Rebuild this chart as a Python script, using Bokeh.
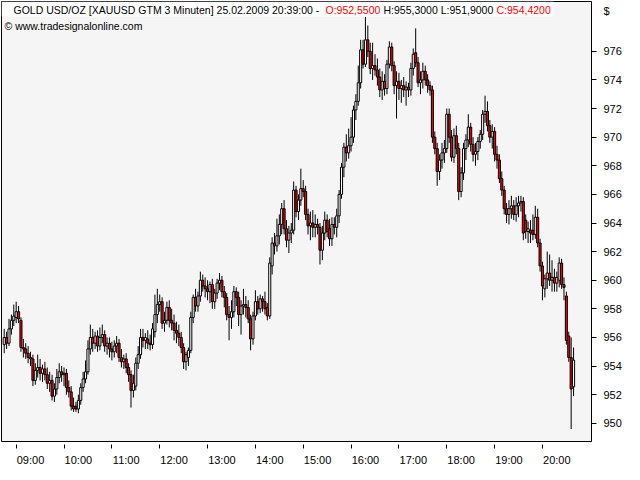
from bokeh.plotting import figure
from bokeh.models import ColumnDataSource, FixedTicker, Range1d, Label, BoxAnnotation
from bokeh.embed import file_html
from bokeh.resources import INLINE

# ---- data: 3-minute bars of GOLD USD/OZ, 25.02.2009, 08:45 .. 20:39 ----
first_bar = "08:45"
bar_step_min = 3

opens = [
    955.5, 956.0, 955.6, 956.6, 957.2, 957.4, 957.8, 957.2, 955.3, 955.2,
    954.9, 954.6, 954.5, 953.0, 953.7, 953.9, 953.5, 953.8, 953.4, 952.8,
    953.0, 951.9, 952.4, 953.2, 953.6, 953.4, 953.5, 952.5, 952.2, 951.2,
    951.2, 951.0, 951.6, 952.5, 953.1, 953.6, 955.2, 956.0, 955.6, 956.1,
    955.4, 956.0, 956.2, 955.4, 955.6, 955.2, 955.0, 955.4, 955.6, 954.6,
    954.3, 954.5, 953.9, 953.4, 952.3, 952.6, 954.2, 954.8, 956.0, 955.8,
    955.9, 955.6, 955.5, 956.4, 957.6, 958.3, 958.5, 957.0, 957.2, 958.1,
    957.2, 957.0, 956.5, 956.3, 956.0, 955.3, 954.3, 954.6, 955.1, 957.4,
    958.8, 958.2, 958.9, 960.0, 959.6, 959.4, 959.2, 959.7, 958.5, 959.1,
    959.8, 960.0, 959.2, 958.8, 957.6, 957.4, 957.8, 959.2, 958.8, 957.6,
    958.2, 958.3, 958.1, 957.3, 955.9, 957.5, 958.5, 958.0, 958.7, 958.5,
    958.1, 957.5, 961.0, 962.6, 962.4, 963.1, 963.9, 965.0, 963.6, 962.8,
    963.3, 963.5, 966.3, 964.8, 965.6, 966.4, 966.2, 964.6, 963.8, 964.0,
    963.7, 963.9, 963.7, 962.1, 963.3, 964.2, 963.6, 962.9, 963.9, 963.7,
    964.5, 966.0, 967.9, 969.3, 968.9, 969.4, 970.0, 971.9, 972.5, 973.8,
    976.1, 975.1, 976.8, 976.0, 974.8, 975.0, 974.7, 974.2, 973.3, 973.9,
    973.4, 975.1, 976.3, 975.0, 973.6, 973.9, 973.4, 973.6, 973.3, 973.5,
    973.3, 974.8, 975.9, 975.2, 973.8, 974.0, 974.6, 974.0, 973.6, 973.3,
    970.0, 969.2, 967.6, 968.4, 968.9, 969.2, 971.6, 970.0, 968.6, 970.1,
    969.2, 966.2, 967.5, 969.2, 969.8, 970.7, 969.5, 968.8, 969.0, 969.7,
    970.2, 971.6, 971.8, 970.8, 970.0, 970.4, 968.8, 968.4, 967.1, 966.3,
    965.0, 964.6, 965.0, 965.2, 964.6, 965.2, 965.4, 965.5, 964.2, 963.4,
    963.5, 963.5, 963.2, 964.4, 962.6, 961.0, 959.4, 960.1, 960.5, 960.0,
    960.2, 959.8, 960.0, 961.2, 959.7, 958.9, 956.1, 954.6, 952.55,
]
highs = [
    956.6, 956.4, 957.3, 957.6, 958.3, 958.5, 958.2, 957.4, 955.9, 955.6,
    955.4, 955.0, 954.8, 954.2, 954.8, 954.5, 954.1, 954.3, 953.9, 953.6,
    953.4, 952.8, 953.8, 954.2, 954.0, 953.9, 953.8, 953.0, 952.6, 951.8,
    951.5, 952.0, 952.8, 953.6, 954.4, 955.8, 956.9, 956.6, 956.4, 956.5,
    956.7, 956.9, 956.5, 956.0, 956.0, 955.7, 955.8, 956.1, 955.9, 955.2,
    954.8, 954.9, 954.2, 953.7, 953.4, 954.6, 955.4, 956.6, 956.6, 956.3,
    956.5, 956.2, 957.0, 959.0, 959.4, 959.0, 958.8, 957.8, 958.5, 958.6,
    958.0, 957.6, 957.1, 956.9, 956.4, 955.6, 955.0, 955.3, 957.8, 959.0,
    959.4, 959.2, 960.6, 960.4, 960.2, 960.0, 959.9, 960.1, 959.4, 960.1,
    960.5, 960.3, 959.6, 959.1, 958.2, 958.6, 959.6, 959.5, 959.2, 958.6,
    959.4, 958.9, 958.6, 957.6, 957.8, 959.3, 958.9, 959.0, 958.9, 959.2,
    958.4, 961.6, 963.0, 963.3, 964.3, 964.6, 965.4, 965.6, 964.2, 963.8,
    964.0, 966.9, 966.6, 966.0, 967.8, 967.0, 966.6, 965.0, 964.8, 964.9,
    964.6, 964.3, 964.0, 963.8, 964.8, 964.6, 964.3, 964.4, 964.4, 965.0,
    966.3, 968.2, 969.6, 970.2, 970.6, 971.4, 972.2, 973.0, 975.0, 976.8,
    976.8, 978.4, 977.8, 976.6, 976.6, 975.8, 975.5, 974.8, 974.6, 974.4,
    975.4, 976.7, 976.6, 975.3, 974.6, 974.5, 974.0, 974.2, 973.9, 973.8,
    975.2, 976.2, 977.6, 975.6, 974.6, 975.2, 975.0, 974.4, 973.9, 973.6,
    970.4, 969.6, 968.8, 969.6, 969.8, 972.0, 972.0, 970.5, 970.6, 970.8,
    969.6, 967.9, 969.6, 970.2, 971.6, 971.0, 970.0, 969.6, 970.0, 970.5,
    971.9, 972.9, 972.5, 971.2, 970.9, 970.7, 969.4, 968.8, 967.6, 966.6,
    965.4, 965.6, 965.9, 965.6, 965.8, 965.9, 965.9, 965.8, 964.6, 964.1,
    964.2, 964.6, 965.2, 965.0, 962.9, 961.3, 960.4, 962.0, 961.8, 961.4,
    960.8, 960.6, 961.6, 961.5, 960.2, 959.2, 956.4, 956.0, 955.3,
]
lows = [
    954.9, 955.2, 955.4, 956.2, 956.8, 957.0, 957.0, 955.0, 954.6, 954.5,
    954.2, 954.0, 952.6, 952.7, 953.2, 953.0, 952.9, 953.0, 952.4, 952.2,
    951.6, 951.5, 952.0, 952.8, 952.9, 952.6, 952.0, 951.8, 950.9, 950.8,
    950.8, 950.7, 951.3, 952.2, 952.8, 953.4, 954.8, 955.0, 955.2, 955.0,
    955.1, 955.6, 955.0, 954.8, 954.6, 954.4, 954.6, 954.9, 954.3, 953.9,
    953.8, 953.5, 952.9, 951.1, 951.8, 952.3, 953.8, 954.5, 955.3, 955.2,
    955.2, 955.1, 955.2, 956.0, 957.0, 957.8, 956.6, 956.4, 956.9, 956.7,
    956.5, 955.8, 955.6, 955.4, 954.9, 953.8, 953.7, 954.0, 954.9, 957.0,
    957.8, 957.8, 958.5, 959.2, 958.8, 958.6, 958.4, 958.0, 958.0, 958.7,
    959.3, 958.8, 958.1, 957.2, 955.8, 956.6, 957.4, 958.2, 956.8, 956.2,
    957.6, 957.4, 957.0, 955.1, 955.5, 957.2, 957.6, 957.7, 957.8, 957.6,
    957.2, 957.3, 960.4, 961.8, 962.0, 962.5, 963.2, 963.2, 962.3, 961.9,
    962.6, 963.2, 964.4, 964.2, 965.2, 965.8, 964.2, 963.2, 962.8, 963.0,
    963.0, 963.2, 961.1, 961.4, 962.8, 963.0, 962.4, 962.4, 963.2, 963.0,
    964.0, 965.7, 967.2, 968.3, 968.5, 969.0, 969.6, 971.2, 972.2, 973.4,
    974.8, 974.9, 975.6, 974.4, 974.0, 974.3, 973.6, 972.8, 972.6, 972.9,
    973.0, 974.8, 974.6, 973.0, 971.3, 972.6, 972.4, 972.8, 972.2, 972.8,
    972.9, 974.3, 974.9, 973.5, 973.0, 973.4, 973.6, 973.1, 972.9, 969.6,
    968.8, 966.6, 967.0, 967.8, 968.2, 968.9, 969.6, 968.3, 968.2, 968.8,
    965.6, 965.8, 967.0, 968.4, 969.3, 969.0, 968.3, 968.0, 968.4, 969.2,
    969.8, 971.0, 970.4, 969.6, 969.2, 968.3, 967.8, 966.8, 965.9, 964.6,
    964.0, 963.9, 964.3, 964.2, 964.1, 964.4, 964.8, 962.8, 962.9, 962.6,
    962.6, 962.8, 962.9, 962.3, 960.6, 958.6, 958.8, 959.4, 959.6, 959.2,
    959.2, 959.2, 959.5, 959.4, 958.6, 955.5, 954.3, 949.6, 951.9,
]
closes = [
    956.0, 955.6, 956.6, 957.2, 957.5, 957.8, 957.3, 955.3, 955.2, 954.9,
    954.6, 954.5, 953.0, 953.7, 953.9, 953.5, 953.8, 953.4, 952.8, 953.0,
    951.9, 952.4, 953.2, 953.6, 953.4, 953.5, 952.5, 952.2, 951.2, 951.0,
    951.0, 951.6, 952.5, 953.1, 953.6, 955.2, 956.0, 955.6, 956.1, 955.4,
    956.0, 956.2, 955.4, 955.6, 955.2, 955.0, 955.4, 955.6, 954.6, 954.3,
    954.5, 953.9, 953.4, 952.3, 952.8, 954.2, 954.8, 956.0, 955.8, 956.0,
    955.6, 955.5, 956.6, 957.6, 958.3, 958.5, 957.0, 957.2, 958.1, 957.2,
    957.0, 956.5, 956.3, 956.0, 955.3, 954.3, 954.8, 955.1, 957.4, 958.8,
    958.2, 958.9, 960.0, 959.6, 959.4, 959.2, 959.7, 958.5, 959.1, 959.8,
    960.0, 959.2, 958.8, 957.6, 957.4, 957.8, 959.2, 958.8, 957.6, 958.2,
    958.3, 958.1, 957.3, 955.9, 957.5, 958.5, 958.0, 958.7, 958.5, 958.0,
    957.5, 961.2, 962.6, 962.4, 963.1, 963.9, 965.0, 963.6, 962.8, 963.3,
    963.5, 966.3, 964.8, 965.6, 966.4, 966.2, 964.6, 963.8, 964.0, 963.7,
    963.9, 963.7, 962.1, 963.3, 964.2, 963.4, 962.9, 963.9, 963.7, 964.5,
    966.0, 967.9, 969.3, 968.9, 969.4, 970.0, 971.9, 972.5, 973.8, 976.1,
    975.1, 976.8, 976.0, 974.8, 975.0, 974.7, 974.2, 973.3, 973.9, 973.4,
    975.1, 976.3, 975.0, 973.6, 973.9, 973.4, 973.6, 973.3, 973.5, 973.3,
    974.8, 975.8, 975.2, 973.8, 974.0, 974.6, 974.0, 973.6, 973.3, 970.0,
    969.2, 967.6, 968.4, 968.9, 969.2, 971.6, 970.0, 968.6, 970.1, 969.2,
    966.2, 967.5, 969.2, 969.8, 970.7, 969.5, 968.8, 969.0, 969.7, 970.2,
    971.6, 971.8, 970.8, 970.0, 970.4, 968.8, 968.4, 967.1, 966.3, 965.0,
    964.6, 965.0, 965.2, 964.6, 965.2, 965.4, 965.5, 963.3, 963.4, 963.6,
    963.3, 963.2, 964.4, 962.6, 961.0, 959.6, 960.1, 960.5, 960.0, 960.2,
    959.8, 960.2, 961.2, 959.7, 959.5, 955.8, 954.6, 952.4, 954.42,
]

hour_labels = ["09:00", "10:00", "11:00", "12:00", "13:00", "14:00",
               "15:00", "16:00", "17:00", "18:00", "19:00", "20:00"]
price_ticks = [950, 952, 954, 956, 958, 960, 962, 964, 966, 968, 970, 972, 974, 976]
currency = "$"

title_main = "GOLD USD/OZ [XAUUSD GTM  3 Minuten] 25.02.2009 20:39:00 -"
title_open = "O:952,5500"
title_hl = "H:955,3000 L:951,9000"
title_close = "C:954,4200"
credit = "\u00a9 www.tradesignalonline.com"

# ---- build ----
h0, m0 = map(int, first_bar.split(":"))
t = [h0 * 60 + m0 + bar_step_min * i for i in range(len(closes))]
hour_minutes = [int(s[:2]) * 60 for s in hour_labels]
LABEL_SHIFT = 18  # minutes: labels sit to the right of their tick mark

src = ColumnDataSource(dict(
    t=t, o=opens, h=highs, l=lows, c=closes,
    top=[max(o, c) for o, c in zip(opens, closes)],
    bottom=[min(o, c) for o, c in zip(opens, closes)],
    fill=["white" if c >= o else "#ff0000" for o, c in zip(opens, closes)],
))

X0, X1 = 521.6, 1261.5
Y0, Y1 = 948.73, 979.48
FW, FH = 590, 440
FONT = "Liberation Sans"

p = figure(frame_width=FW, frame_height=FH,
           x_range=Range1d(X0, X1), y_range=Range1d(Y0, Y1),
           output_backend="svg", toolbar_location=None,
           y_axis_location="right",
           min_border_left=1, min_border_top=1, min_border_right=0, min_border_bottom=0,
           background_fill_color="#f5f5f5", border_fill_color="white")
p.outline_line_color = "black"
p.outline_line_width = 1
p.xgrid.visible = False
p.ygrid.visible = False

# right price axis: minor ticks draw the marks, majors carry the labels
# (the currency sign sits as an extra label near the top, without a mark)
dollar_pos = Y1 - 9 / FH * (Y1 - Y0)
p.yaxis.ticker = FixedTicker(ticks=price_ticks + [dollar_pos], minor_ticks=price_ticks)
p.yaxis.major_label_overrides = {dollar_pos: currency}
p.yaxis.major_tick_out = 0
p.yaxis.major_tick_in = 0
p.yaxis.minor_tick_out = 5
p.yaxis.minor_tick_in = 0
p.yaxis.minor_tick_line_color = "black"
p.yaxis.axis_line_color = "black"
p.yaxis.major_label_standoff = 7
p.yaxis.major_label_text_font = FONT
p.yaxis.major_label_text_font_size = "11px"
p.yaxis.major_label_text_color = "black"

# bottom time axis: minor ticks mark the hour, labels to the right
p.xaxis.ticker = FixedTicker(ticks=[m + LABEL_SHIFT for m in hour_minutes],
                             minor_ticks=hour_minutes)
p.xaxis.major_label_overrides = {m + LABEL_SHIFT: lab for m, lab in zip(hour_minutes, hour_labels)}
p.xaxis.major_tick_out = 0
p.xaxis.major_tick_in = 0
p.xaxis.minor_tick_in = -3
p.xaxis.minor_tick_out = 7
p.xaxis.minor_tick_line_color = "black"
p.xaxis.axis_line_color = None
p.xaxis.major_label_standoff = 5
p.xaxis.major_label_text_font = FONT
p.xaxis.major_label_text_font_size = "11px"
p.xaxis.major_label_text_color = "black"

# candles
p.segment(x0="t", y0="l", x1="t", y1="h", source=src, line_color="black", line_width=1)
p.vbar(x="t", width=2.6, top="top", bottom="bottom", source=src,
       fill_color="fill", line_color="black", line_width=1)

# title box and texts
p.add_layout(BoxAnnotation(left=X0, right=X0 + 552 / FW * (X1 - X0),
                           top=Y1, bottom=Y1 - 15 / FH * (Y1 - Y0),
                           fill_color="white", fill_alpha=1, line_alpha=0))

def lab(text, xoff, yoff, color="black"):
    return Label(x=X0, y=Y1, x_offset=xoff, y_offset=yoff, text=text,
                 text_baseline="top", text_align="left", text_font=FONT,
                 text_font_size="10.5px", text_color=color)

p.add_layout(lab(title_main, 12, -2))
p.add_layout(lab(title_open, 324, -2, "#ff0000"))
p.add_layout(lab(title_hl, 382, -2))
p.add_layout(lab(title_close, 495, -2, "#ff0000"))
p.add_layout(lab(credit, 3, -18))

open("out.html", "w").write(file_html(p, INLINE))
